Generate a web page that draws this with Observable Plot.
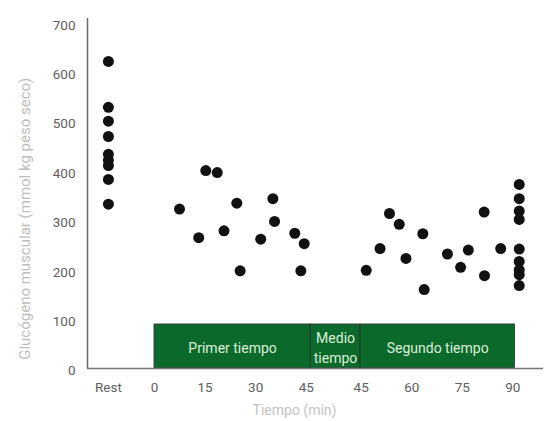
<!DOCTYPE html>
<html>
<head>
<meta charset="utf-8">
<script src="https://cdn.jsdelivr.net/npm/d3@7"></script>
<script src="https://cdn.jsdelivr.net/npm/@observablehq/plot@0.6"></script>
<style>
  html, body { margin: 0; padding: 0; background: #fff; }
  #chart svg { display: block; }
</style>
</head>
<body>
<div id="chart"></div>
<script>
// ---------- data ----------
const restValues = [627, 534, 506, 475, 439, 427, 416, 388, 338];

const firstHalfMinutes = [7.4, 15.2, 18.6, 13.1, 24.4, 20.6, 35.1, 35.6, 31.5, 41.6, 44.4, 25.4, 43.4];
const firstHalfValues  = [328, 406, 402, 270, 340, 284, 349, 303, 267, 279, 258, 203, 203];

const secondHalfMinutes = [46.5, 50.6, 53.4, 56.3, 58.3, 63.3, 63.7, 70.6, 74.5, 76.8, 81.5, 81.6, 86.4,
                           91.9, 91.9, 91.9, 91.9, 91.9, 91.9, 91.9, 91.9, 91.9];
const secondHalfValues  = [204, 248, 319, 297, 228, 278, 165, 237, 210, 245, 322, 193, 248,
                           378, 349, 324, 307, 247, 222, 205, 195, 173];

const firstHalfTicks  = [0, 15, 30, 45];
const secondHalfTicks = [45, 60, 75, 90];
const yTicks = [0, 100, 200, 300, 400, 500, 600, 700];

const phaseLabels = ["Primer tiempo", "Medio\ntiempo", "Segundo tiempo"];
// phase boundaries as [half, minute]
const phaseStarts = [[1, 0], [1, 46.3], [2, 44.8]];
const phaseEnds   = [[1, 46.3], [2, 44.8], [2, 90.6]];

const yLabel = "Glucógeno muscular (mmol kg peso seco)";
const xLabel = "Tiempo (min)";

// ---------- layout helpers ----------
const restPosition = -13.7;   // position of the "Rest" column on the time axis
const halftimeGap = 16.3;     // width of the half-time break on the time axis
const pos = (half, minute) => half === 1 ? minute : minute + halftimeGap;
const xDomain = [-19.9, 115.4];
const boxTop = 89;

const points = [
  ...restValues.map(v => ({x: restPosition, y: v})),
  ...firstHalfMinutes.map((m, i) => ({x: pos(1, m), y: firstHalfValues[i]})),
  ...secondHalfMinutes.map((m, i) => ({x: pos(2, m), y: secondHalfValues[i]}))
];

const xTicks = [
  {x: restPosition, label: "Rest"},
  ...firstHalfTicks.map(m => ({x: pos(1, m), label: String(m)})),
  ...secondHalfTicks.map(m => ({x: pos(2, m), label: String(m)}))
];
const tickLabelByPos = new Map(xTicks.map(d => [d.x, d.label]));

const phases = phaseLabels.map((label, i) => {
  const x1 = pos(...phaseStarts[i]);
  const x2 = pos(...phaseEnds[i]);
  return {label, x1, x2, mid: (x1 + x2) / 2};
});

const chart = Plot.plot({
  width: 544,
  height: 421,
  marginLeft: 87,
  marginRight: 1,
  marginTop: 18,
  marginBottom: 50.5,
  style: {fontFamily: "Roboto, sans-serif", background: "#fff"},
  x: {domain: xDomain},
  y: {domain: [0, 714]},
  marks: [
    Plot.rect(phases, {x1: "x1", x2: "x2", y1: 0, y2: boxTop, dy: -2.5,
      fill: "#0b6a2b", stroke: "#24382a", strokeWidth: 1}),
    Plot.text(phases, {x: "mid", y: boxTop / 2, dy: -2.5, text: "label",
      fill: "#dcefd8", fontSize: 14, lineHeight: 1.45}),
    Plot.ruleY([0], {dy: -2.5, stroke: "#777", strokeWidth: 1.5}),
    Plot.ruleX([xDomain[0]], {stroke: "#6a6a6a", strokeWidth: 1.5, insetBottom: 2.5}),
    Plot.axisX(xTicks.map(d => d.x), {tickSize: 0, tickPadding: 11, fontSize: 13.5,
      fill: "#5e5e5e", tickFormat: d => tickLabelByPos.get(d), label: null}),
    Plot.axisY(yTicks, {tickSize: 0, tickPadding: 12, fontSize: 13.5, fill: "#5e5e5e", label: null}),
    Plot.text([yLabel], {frameAnchor: "left", textAnchor: "middle", dx: -62, dy: 24, rotate: -90,
      fontSize: 15, fill: "#bdbdbd", text: d => d}),
    Plot.text([xLabel], {frameAnchor: "bottom", textAnchor: "middle", lineAnchor: "middle", dx: -21, dy: 40,
      fontSize: 14, fill: "#c4c4c4", text: d => d}),
    Plot.dot(points, {x: "x", y: "y", r: 5.5, fill: "#111"})
  ]
});

document.getElementById("chart").appendChild(chart);
</script>
</body>
</html>
